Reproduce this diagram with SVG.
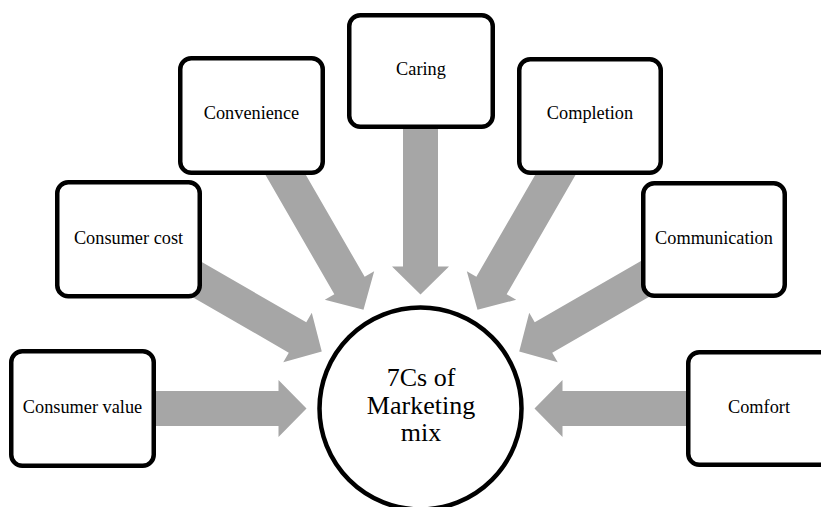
<svg xmlns="http://www.w3.org/2000/svg" width="821" height="507" viewBox="0 0 821 507">
<style>
.box{fill:#fff;stroke:#000;stroke-width:4.5}
.lbl{font-family:"Liberation Serif","Times New Roman",serif;font-size:18.3px;fill:#000;text-anchor:middle}
.hub{font-family:"Liberation Serif","Times New Roman",serif;font-size:26px;fill:#000;text-anchor:middle}
.arr{fill:#a6a6a6}
</style>
<defs>
<polygon id="arrow" points="-224,-17.5 -28,-17.5 -28,-28.5 0,0 -28,28.5 -28,17.5 -224,17.5"/>
</defs>
<rect width="821" height="507" fill="#fff"/>
<g id="connectors" class="arr">
<use href="#arrow" transform="translate(420.5,408.5) rotate(0) translate(-114,0)"/>
<use href="#arrow" transform="translate(420.5,408.5) rotate(30) translate(-114,0)"/>
<use href="#arrow" transform="translate(420.5,408.5) rotate(60) translate(-114,0)"/>
<use href="#arrow" transform="translate(420.5,408.5) rotate(90) translate(-114,0)"/>
<use href="#arrow" transform="translate(420.5,408.5) rotate(120) translate(-114,0)"/>
<use href="#arrow" transform="translate(420.5,408.5) rotate(150) translate(-114,0)"/>
<use href="#arrow" transform="translate(420.5,408.5) rotate(180) translate(-114,0)"/>
</g>
<g id="hub">
<circle class="box" cx="420.5" cy="408.5" r="101"/>
<text class="hub" x="421" y="386">7Cs of</text>
<text class="hub" x="421" y="413.5">Marketing</text>
<text class="hub" x="421" y="441">mix</text>
</g>
<g id="consumer-value">
<rect class="box" x="11.25" y="351.25" width="142.5" height="114.5" rx="11"/>
<text class="lbl" x="82.5" y="412.5">Consumer value</text>
</g>
<g id="consumer-cost">
<rect class="box" x="57.25" y="182.25" width="142.5" height="114" rx="11"/>
<text class="lbl" x="128.5" y="243.5">Consumer cost</text>
</g>
<g id="convenience">
<rect class="box" x="180.25" y="58.25" width="142.5" height="114.5" rx="11"/>
<text class="lbl" x="251.5" y="119">Convenience</text>
</g>
<g id="caring">
<rect class="box" x="349.25" y="15.25" width="143.5" height="111.5" rx="11"/>
<text class="lbl" x="421" y="75">Caring</text>
</g>
<g id="completion">
<rect class="box" x="519.25" y="59.25" width="141.5" height="113.5" rx="11"/>
<text class="lbl" x="590" y="119">Completion</text>
</g>
<g id="communication">
<rect class="box" x="643.25" y="183.25" width="141.5" height="112.5" rx="11"/>
<text class="lbl" x="714" y="243.5">Communication</text>
</g>
<g id="comfort">
<rect class="box" x="688.25" y="352.25" width="142.5" height="112.5" rx="11"/>
<text class="lbl" x="759" y="412.5">Comfort</text>
</g>
</svg>
